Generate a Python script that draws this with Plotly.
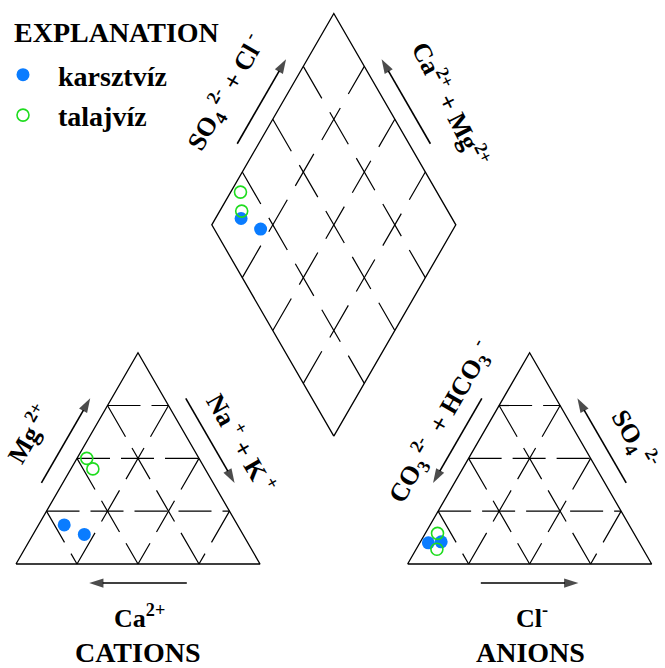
import math
import plotly.graph_objects as go

# ---- sample chemistry, percent of total meq/L ----
sample_group = ["karsztvíz", "karsztvíz", "talajvíz", "talajvíz"]
ca = [71.0, 65.0, 46.0, 46.0]
mg = [18.5, 14.0, 50.0, 45.0]
na_k = [10.5, 21.0, 4.0, 9.0]
hco3 = [86.5, 81.0, 80.5, 84.5]
so4 = [10.0, 10.5, 14.5, 7.0]
cl = [3.5, 8.5, 5.0, 8.5]

group_names = ["karsztvíz", "talajvíz"]
group_colors = ["#0a7cff", "#1edc1e"]
group_symbols = ["circle", "circle-open"]

grid_levels = [25, 50, 75]

# ---- Piper layout geometry (triangle side = 100 units) ----
SIDE = 100.0
R3 = math.sqrt(3.0)
H = SIDE * R3 / 2
GAP = 60.5
AN_X0 = SIDE + GAP
DIA_X0 = SIDE + GAP / 2
DIA_Y0 = GAP / 2 * R3
PX = 2.44          # screen pixels per unit
W, HT = 665, 668
ORIGIN_PX = (16, 564)

FONT = "Liberation Serif"


def cat_xy(m, n):
    """Cation triangle: Mg %, Na+K % -> plane."""
    return n + m / 2, m * H / 100


def an_xy(s, c):
    """Anion triangle: SO4 %, Cl % -> plane."""
    return AN_X0 + c + s / 2, s * H / 100


def dia_xy(u, v):
    """Diamond: Ca+Mg %, SO4+Cl % -> plane."""
    return DIA_X0 + (v - u) / 2, DIA_Y0 + (u + v) * H / 100


fig = go.Figure()

# ---- dashed grid lines (each line drawn from its own start point) ----
grid = []  # (start, end, dash)
TRI_H, TRI_D, DIA_D = "33px,11px", "36px,13px", "37px,16px"
for f in grid_levels:
    grid.append((cat_xy(f, 0), cat_xy(f, 100 - f), TRI_H))
    grid.append((cat_xy(100 - f, 0), cat_xy(0, 100 - f), TRI_D))
    grid.append((cat_xy(100 - f, f), cat_xy(0, f), TRI_D))
    grid.append((an_xy(f, 0), an_xy(f, 100 - f), TRI_H))
    grid.append((an_xy(100 - f, 0), an_xy(0, 100 - f), TRI_D))
    grid.append((an_xy(100 - f, f), an_xy(0, f), TRI_D))
    grid.append((dia_xy(f, 0), dia_xy(f, 100), DIA_D))
    grid.append((dia_xy(100, f), dia_xy(0, f), DIA_D))

for (x0, y0), (x1, y1), dash in grid:
    fig.add_trace(go.Scatter(x=[x0, x1], y=[y0, y1], mode="lines",
                             showlegend=False, hoverinfo="skip",
                             line=dict(color="black", width=1.2, dash=dash)))

# ---- outlines ----
outlines = [
    [cat_xy(0, 0), cat_xy(0, 100), cat_xy(100, 0), cat_xy(0, 0)],
    [an_xy(0, 0), an_xy(0, 100), an_xy(100, 0), an_xy(0, 0)],
    [dia_xy(0, 0), dia_xy(100, 0), dia_xy(100, 100), dia_xy(0, 100), dia_xy(0, 0)],
]
for pts in outlines:
    fig.add_trace(go.Scatter(x=[p[0] for p in pts], y=[p[1] for p in pts],
                             mode="lines", showlegend=False, hoverinfo="skip",
                             line=dict(color="black", width=1.3)))

# ---- axis arrows ----
NL = (-R3 / 2, 0.5)
NR = (R3 / 2, 0.5)
ND = (0.0, -1.0)


def along(p, q, t):
    return p[0] + (q[0] - p[0]) * t, p[1] + (q[1] - p[1]) * t


cat_apex = cat_xy(100, 0)
an_apex = an_xy(100, 0)
arrows = [
    (cat_xy(0, 0), cat_apex, 0.34, 0.74, NL),
    (cat_apex, cat_xy(0, 100), 0.26, 0.66, NR),
    (cat_xy(0, 100), cat_xy(0, 0), 0.30, 0.70, ND),
    (an_apex, an_xy(0, 0), 0.26, 0.66, NL),
    (an_xy(0, 100), an_apex, 0.34, 0.74, NR),
    (an_xy(0, 0), an_xy(0, 100), 0.30, 0.70, ND),
    (dia_xy(100, 0), dia_xy(100, 100), 0.34, 0.74, NL),
    (dia_xy(0, 100), dia_xy(100, 100), 0.34, 0.74, NR),
]
for p, q, t0, t1, n in arrows:
    a = along(p, q, t0)
    b = along(p, q, t1)
    off = 7.6 if n != ND else 7.8
    fig.add_trace(go.Scatter(
        x=[a[0] + n[0] * off, b[0] + n[0] * off],
        y=[a[1] + n[1] * off, b[1] + n[1] * off],
        mode="lines+markers", showlegend=False, hoverinfo="skip",
        line=dict(color="#000000", width=1.6),
        marker=dict(symbol="arrow", size=[0, 15], angleref="previous",
                    color="#000000", line=dict(width=0))))

# ---- samples in all three fields ----
for name, color, symbol in zip(group_names, group_colors, group_symbols):
    idx = [i for i, g in enumerate(sample_group) if g == name]
    xs, ys = [], []
    for i in idx:
        p = cat_xy(mg[i], na_k[i])
        xs.append(p[0]); ys.append(p[1])
    for i in idx:
        p = an_xy(so4[i], cl[i])
        xs.append(p[0]); ys.append(p[1])
    for i in idx:
        p = dia_xy(ca[i] + mg[i], so4[i] + cl[i])
        xs.append(p[0]); ys.append(p[1])
    if symbol == "circle":
        marker = dict(color=color, size=13, symbol=symbol, line=dict(width=0))
    else:
        marker = dict(color=color, size=12, symbol=symbol,
                      line=dict(width=1.6, color=color))
    fig.add_trace(go.Scatter(x=xs, y=ys, mode="markers", name=name,
                             legendgroup=name, marker=marker))

# ---- axis titles ----
lab_font = dict(family=FONT, size=26, color="black", weight="bold")


def edge_label(p, q, shift, normal, dist, text, angle):
    m = along(p, q, 0.5)
    ux, uy = (q[0] - p[0]) / SIDE, (q[1] - p[1]) / SIDE
    x = m[0] + ux * shift + normal[0] * dist
    y = m[1] + uy * shift + normal[1] * dist
    return dict(x=x, y=y, xref="x", yref="y", text=text, textangle=angle,
                showarrow=False, font=lab_font)


NB = "\u00a0"
annotations = [
    edge_label(dia_xy(100, 0), dia_xy(100, 100), 0, NL, 22,
               "SO<sub>4</sub><sup>" + NB + "2-</sup>" + NB + "+" + NB + "Cl<sup>" + NB + "-</sup>", -60),
    edge_label(dia_xy(0, 100), dia_xy(100, 100), -6, NR, 23,
               "Ca<sup>2+</sup>" + NB + "+" + NB + "Mg<sup>2+</sup>", 63),
    edge_label(cat_xy(0, 0), cat_apex, -1, NL, 22.5, "Mg<sup>" + NB + "2+</sup>", -60),
    edge_label(cat_apex, cat_xy(0, 100), 3.5, NR, 18.5,
               "Na<sup>" + NB + "+</sup>" + NB + "+" + NB + "K<sup>" + NB + "+</sup>", 60),
    edge_label(an_apex, an_xy(0, 0), -7, NL, 17.5,
               "CO<sub>3</sub><sup>" + NB + "2-</sup>" + NB + NB + "+" + NB + "HCO<sub>3</sub><sup>" + NB + "-</sup>", -60),
    edge_label(an_xy(0, 100), an_apex, -2, NR, 19.5,
               "SO<sub>4</sub><sup>" + NB + "2-</sup>", 60),
]
big_font = dict(family=FONT, size=28, color="black", weight="bold")
for x0, sym, group in [(50.5, "Ca<sup>2+</sup>", "CATIONS"),
                       (AN_X0 + 51, "Cl<sup>-</sup>", "ANIONS")]:
    annotations.append(dict(x=x0, y=-21.5, xref="x", yref="y", text=sym,
                            showarrow=False, font=lab_font))
    annotations.append(dict(x=x0 - 0.5, y=-36.4, xref="x", yref="y", text=group,
                            showarrow=False, font=big_font))

# legend heading
annotations.append(dict(x=12 / W, y=1 - 32 / HT, xref="paper", yref="paper",
                        xanchor="left", yanchor="middle", text="EXPLANATION",
                        showarrow=False, font=big_font))

x_rng = [-ORIGIN_PX[0] / PX, (W - ORIGIN_PX[0]) / PX]
y_rng = [-(HT - ORIGIN_PX[1]) / PX, ORIGIN_PX[1] / PX]

fig.update_layout(
    width=W, height=HT,
    margin=dict(l=0, r=0, t=0, b=0, autoexpand=False),
    paper_bgcolor="white", plot_bgcolor="white",
    xaxis=dict(range=x_rng, visible=False, fixedrange=True),
    yaxis=dict(range=y_rng, visible=False, fixedrange=True),
    annotations=annotations,
    legend=dict(
        x=-12 / W, y=1 - 50 / HT, xanchor="left", yanchor="top",
        font=dict(family=FONT, size=28, color="black", weight="bold"),
        bgcolor="rgba(0,0,0,0)", itemwidth=60, tracegroupgap=1,
    ),
)

fig.write_html("out.html")
